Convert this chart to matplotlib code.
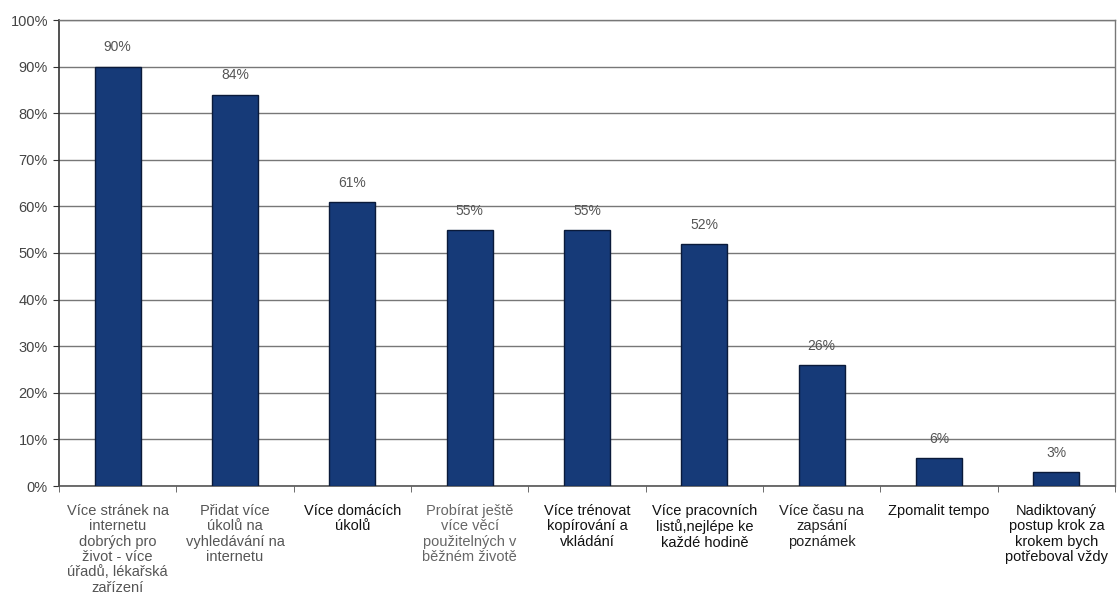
import matplotlib
matplotlib.use('Agg')

import matplotlib.pyplot as plt
import numpy as np

# Data
kategorie = [
    'Více stránek na\ninternetu\ndobrých pro\nživot - více\núřadů, lékařská\nzařízení',
    'Přidat více\núkolů na\nvyhledávání na\ninternetu',
    'Více domácích\núkolů',
    'Probírat ještě\nvíce věcí\npoužitelných v\nběžném životě',
    'Více trénovat\nkopírování a\nvkládání',
    'Více pracovních\nlistů,nejlépe ke\nkaždé hodině',
    'Více času na\nzapsání\npoznámek',
    'Zpomalit tempo',
    'Nadiktovaný\npostup krok za\nkrokem bych\npotřeboval vždy',
]
hodnoty = [90, 84, 61, 55, 55, 52, 26, 6, 3]
popisky = ['90%', '84%', '61%', '55%', '55%', '52%', '26%', '6%', '3%']
y_ticks = [0, 10, 20, 30, 40, 50, 60, 70, 80, 90, 100]
y_labels = ['0%', '10%', '20%', '30%', '40%', '50%', '60%', '70%', '80%', '90%', '100%']

# barvy popisků os (některé jsou tmavší)
barvy_popisku = ['#555555', '#555555', '#111111', '#666666', '#111111',
                 '#111111', '#222222', '#111111', '#111111']

plt.rcParams['font.family'] = ['Liberation Sans', 'DejaVu Sans']

fig = plt.figure(figsize=(11.17, 6.10), dpi=100)
ax = fig.add_axes([59 / 1117, 124 / 610, 1056 / 1117, 466 / 610])

x = np.arange(len(kategorie))
bars = ax.bar(x, hodnoty, width=0.39, color='#163a78', edgecolor='#0a1a3a',
              linewidth=1.0, zorder=3)

for bar, txt in zip(bars, popisky):
    ax.text(bar.get_x() + bar.get_width() / 2, bar.get_height() + 2.6, txt,
            ha='center', va='bottom', fontsize=10, color='#555555', zorder=4)

ax.set_xlim(-0.5, len(kategorie) - 0.5)
ax.set_ylim(0, 100)
ax.set_yticks(y_ticks)
ax.set_yticklabels(y_labels, fontsize=10.5, color='#444444')
ax.yaxis.grid(True, color='#777777', linewidth=1.0, zorder=0)

# popisky kategorií pod osou
ax.set_xticks(x)
ax.set_xticklabels(kategorie, fontsize=10.5, linespacing=1.12, va='top')
for lbl, c in zip(ax.get_xticklabels(), barvy_popisku):
    lbl.set_color(c)
ax.tick_params(axis='x', length=0, pad=13)
ax.tick_params(axis='y', length=4, color='#333333', pad=4)

# drobné značky mezi kategoriemi
ax.set_xticks(np.arange(-0.5, len(kategorie), 1.0), minor=True)
ax.tick_params(axis='x', which='minor', length=4, color='#555555')

for side in ['top', 'right']:
    ax.spines[side].set_color('#777777')
    ax.spines[side].set_linewidth(1.0)
ax.spines['left'].set_color('#333333')
ax.spines['left'].set_linewidth(1.2)
ax.spines['bottom'].set_color('#555555')
ax.spines['bottom'].set_linewidth(1.2)

fig.savefig('out.png', dpi=100)
